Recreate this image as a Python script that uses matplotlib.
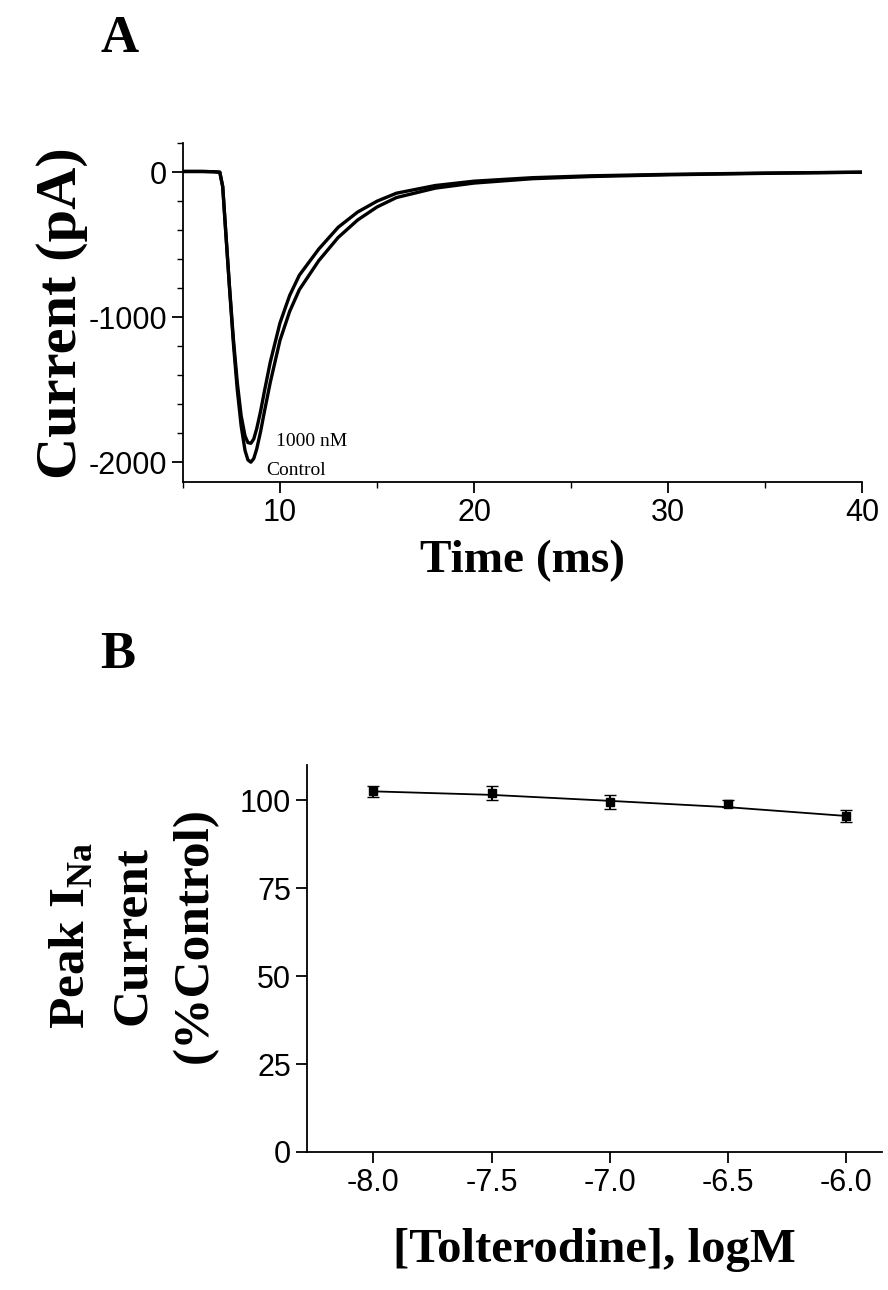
import matplotlib
matplotlib.use("Agg")
import matplotlib.pyplot as plt
from matplotlib.ticker import MultipleLocator

plt.rcParams['mathtext.fontset'] = 'custom'
plt.rcParams['mathtext.rm'] = 'Liberation Serif:bold'
plt.rcParams['mathtext.bf'] = 'Liberation Serif:bold'
plt.rcParams['axes.unicode_minus'] = False

# Panel A traces (sampled)
time_ms = [5, 6, 6.6, 6.9, 7.05, 7.2, 7.4, 7.6, 7.8, 8.0, 8.2, 8.35, 8.5, 8.65, 8.8, 9.0, 9.2, 9.5, 10, 10.5,
           11, 12, 13, 14, 15, 16, 18, 20, 23, 26, 30, 35, 40]
control = [5, 5, 3, 0, -100, -400, -800, -1180, -1500, -1750, -1920, -1985, -2000, -1975, -1910, -1790, -1650,
           -1450, -1160, -960, -810, -610, -450, -330, -240, -175, -110, -75, -45, -30, -18, -8, 0]
drug_1000 = [5, 5, 3, 0, -100, -400, -790, -1150, -1450, -1680, -1820, -1865, -1870, -1840, -1770, -1650, -1510,
             -1310, -1040, -850, -710, -530, -380, -275, -200, -145, -92, -62, -38, -25, -15, -6, 0]

# Panel B
log_conc = [-8.0, -7.5, -7.0, -6.5, -6.0]
peak_pct = [102.5, 102.0, 99.5, 99.0, 95.5]
peak_err = [1.5, 2.0, 2.0, 1.0, 1.8]
fit_x = [-8.0, -7.5, -7.0, -6.5, -6.0]
fit_y = [102.5, 101.5, 99.8, 98.0, 95.5]

fig = plt.figure(figsize=(8.88, 12.9), dpi=100)
serif = 'Liberation Serif'
sans = 'Liberation Sans'

axA = fig.add_axes([0.206, 0.626, 0.765, 0.263])
axA.plot(time_ms, control, color='black', lw=2.4)
axA.plot(time_ms, drug_1000, color='black', lw=2.4)
axA.set_xlim(5, 40)
axA.set_ylim(-2140, 200)
axA.xaxis.set_major_locator(MultipleLocator(10))
axA.xaxis.set_minor_locator(MultipleLocator(5))
axA.yaxis.set_major_locator(MultipleLocator(1000))
axA.yaxis.set_minor_locator(MultipleLocator(200))
axA.text(9.8, -1860, '1000 nM', fontsize=14, family=serif, va='center')
axA.text(9.3, -2060, 'Control', fontsize=14, family=serif, va='center')
axA.set_xlabel('Time (ms)', fontsize=34, family=serif, fontweight='bold', labelpad=8)
axA.set_ylabel('Current (pA)', fontsize=42, family=serif, fontweight='bold', labelpad=0)

axB = fig.add_axes([0.346, 0.107, 0.647, 0.30])
axB.errorbar(log_conc, peak_pct, yerr=peak_err, fmt='s', color='black', ms=6, capsize=4, elinewidth=1.5)
axB.plot(fit_x, fit_y, color='black', lw=1.3)
axB.set_xlim(-8.28, -5.85)
axB.set_ylim(0, 110)
axB.set_xticks([-8.0, -7.5, -7.0, -6.5, -6.0])
axB.set_xticklabels(['-8.0', '-7.5', '-7.0', '-6.5', '-6.0'])
axB.yaxis.set_major_locator(MultipleLocator(25))
axB.set_xlabel('[Tolterodine], logM', fontsize=35, family=serif, fontweight='bold', labelpad=22)
axB.set_ylabel('Peak I$_{\\mathrm{Na}}$\nCurrent\n(%Control)', fontsize=37, family=serif,
               fontweight='bold', linespacing=1.45)
axB.yaxis.set_label_coords(-0.155, 0.56)

for ax in (axA, axB):
    for s in ('top', 'right'):
        ax.spines[s].set_visible(False)
    for s in ('left', 'bottom'):
        ax.spines[s].set_linewidth(1.3)
    ax.tick_params(which='major', length=8, width=1.3, labelsize=22)
    ax.tick_params(which='minor', length=4, width=1.0)
    for lab in ax.get_xticklabels() + ax.get_yticklabels():
        lab.set_family(sans)

fig.text(0.113, 0.970, 'A', fontsize=38, family=serif, fontweight='bold', ha='left', va='center')
fig.text(0.113, 0.492, 'B', fontsize=38, family=serif, fontweight='bold', ha='left', va='center')

fig.savefig('out.png', dpi=100)
